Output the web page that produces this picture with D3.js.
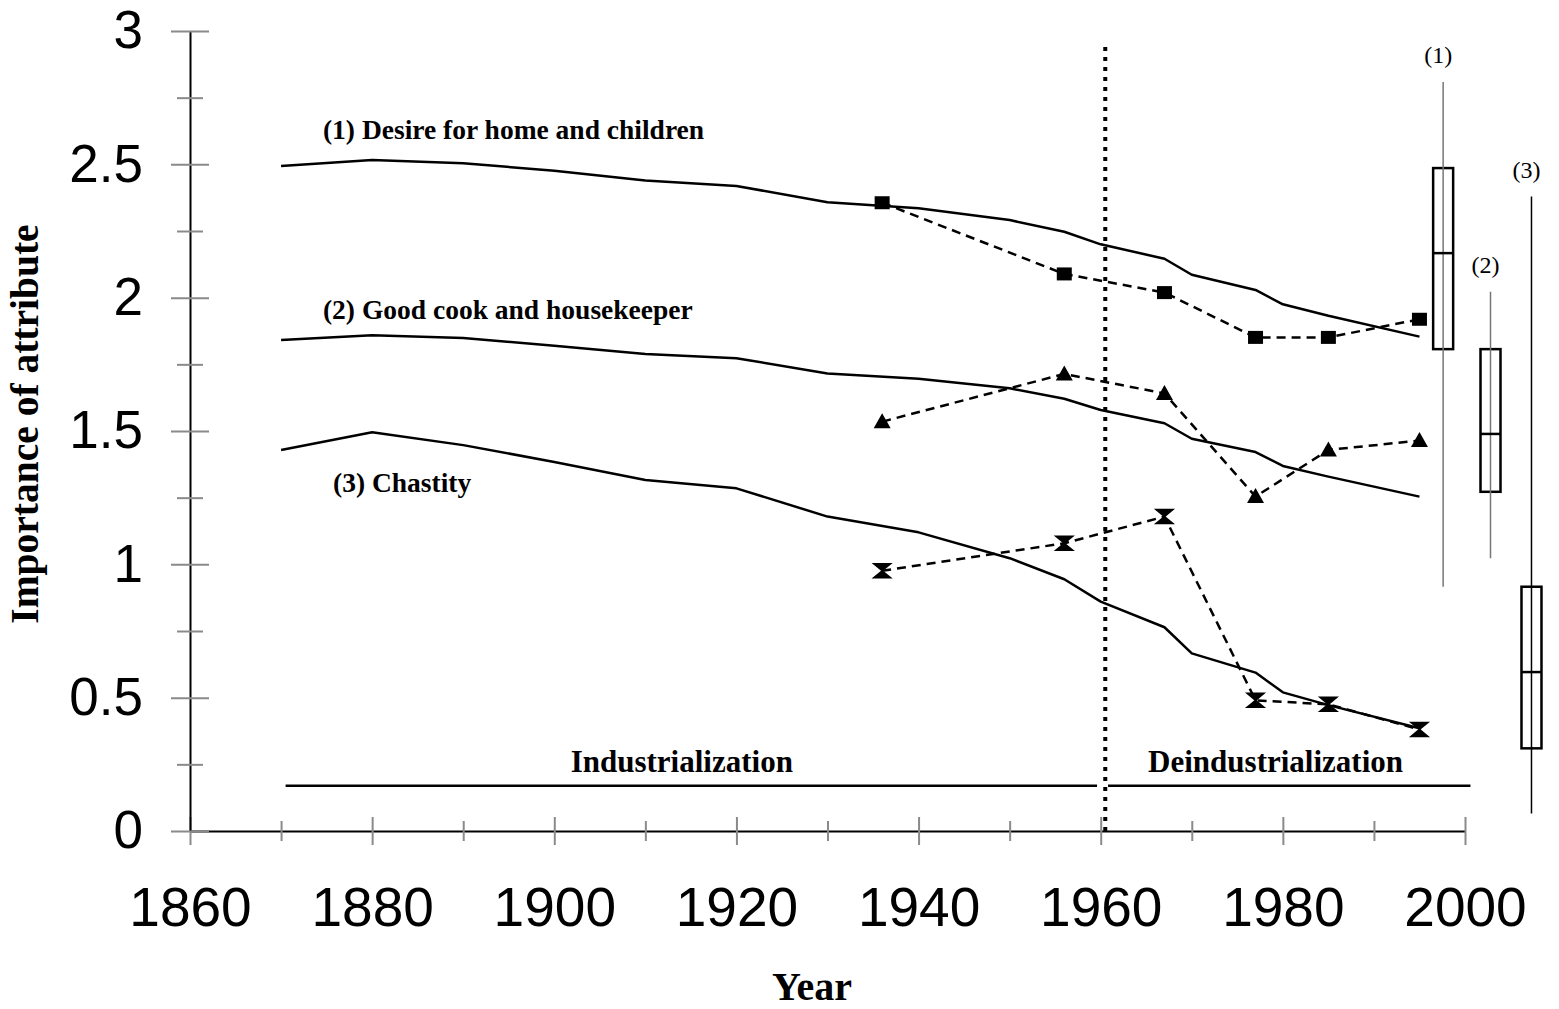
<!DOCTYPE html>
<html>
<head>
<meta charset="utf-8">
<script src="https://cdn.jsdelivr.net/npm/d3@7"></script>
<style>
    body { margin: 0; background: #fff; }
    .serif { font-family: "Liberation Serif", "Times New Roman", serif; }
    .sans { font-family: "Liberation Sans", Arial, sans-serif; }
</style>
</head>
<body>
<script>
// smooth trend lines (solid)
var trendYears = [1870, 1880, 1890, 1900, 1910, 1920, 1930, 1940, 1950, 1956, 1960, 1967, 1970, 1977, 1980, 1985, 1995];
var trendHome = [2.494, 2.516, 2.504, 2.476, 2.439, 2.419, 2.358, 2.335, 2.291, 2.247, 2.2, 2.146, 2.086, 2.029, 1.975, 1.932, 1.854];
var trendCook = [1.841, 1.859, 1.849, 1.82, 1.789, 1.773, 1.716, 1.696, 1.66, 1.621, 1.579, 1.529, 1.471, 1.421, 1.369, 1.329, 1.254];
var trendChastity = [1.429, 1.495, 1.447, 1.384, 1.316, 1.285, 1.179, 1.12, 1.023, 0.944, 0.86, 0.764, 0.666, 0.594, 0.52, 0.472, 0.385];

// survey points (dashed)
var surveyYears = [1936, 1956, 1967, 1977, 1985, 1995];
var surveyHome = [2.356, 2.089, 2.019, 1.851, 1.851, 1.919];
var surveyCook = [1.535, 1.714, 1.641, 1.254, 1.429, 1.464];
var surveyChastity = [0.976, 1.079, 1.179, 0.49, 0.475, 0.381];

var seriesLabels = ['(1) Desire for home and children', '(2) Good cook and housekeeper', '(3) Chastity'];
var seriesLabelYears = [1874.6, 1874.6, 1875.7];
var seriesLabelValues = [2.595, 1.92, 1.27];

// box plots at the right
var boxNames = ['(1)', '(2)', '(3)'];
var boxYears = [1997.6, 2002.8, 2007.3];
var boxMax = [2.809, 2.022, 2.379];
var boxQ3 = [2.486, 1.807, 0.916];
var boxMedian = [2.167, 1.489, 0.596];
var boxQ1 = [1.807, 1.272, 0.31];
var boxMin = [0.916, 1.023, 0.066];

// periods
var periodNames = ['Industrialization', 'Deindustrialization'];
var periodStart = [1870.5, 1960.8];
var periodEnd = [1959.6, 2000.6];
var periodLabelYears = [1914, 1979.2];
var periodLevel = 0.17;
var periodLabelLevel = 0.222;
var breakYear = 1960.5;

var xMajorTicks = d3.range(1860, 2001, 20);
var xMinorTicks = d3.range(1870, 2000, 20);
var yMajorTicks = [0, 0.5, 1, 1.5, 2, 2.5, 3];
var yMinorTicks = [0.25, 0.75, 1.25, 1.75, 2.25, 2.75];

var width = 1559, height = 1009;
var tickGrey = '#8a8a8a';

var svg = d3.select('body').append('svg')
    .attr('width', width)
    .attr('height', height);

var x = d3.scaleLinear().domain([1860, 2000]).range([190, 1465]);
var y = d3.scaleLinear().domain([0, 3]).range([831, 31]);

//x-axis
var xAxisG = svg.append('g')
    .attr('transform', 'translate(0,' + y(0) + ')')
    .call(d3.axisBottom(x).tickValues(xMajorTicks).tickSize(14).tickSizeOuter(0).tickPadding(42)
        .tickFormat(function (d) { return String(d); }));
xAxisG.select('.domain').attr('stroke', '#000').attr('stroke-width', 2);
xAxisG.selectAll('.tick line').attr('y1', -14).attr('stroke', tickGrey).attr('stroke-width', 2);
xAxisG.selectAll('.tick text').attr('class', 'sans').attr('font-size', 55).attr('fill', '#000');

var xMinorG = svg.append('g')
    .attr('transform', 'translate(0,' + y(0) + ')')
    .call(d3.axisBottom(x).tickValues(xMinorTicks).tickSize(10).tickSizeOuter(0).tickFormat(''));
xMinorG.select('.domain').remove();
xMinorG.selectAll('.tick line').attr('y1', -10).attr('stroke', tickGrey).attr('stroke-width', 2);

//y-axis
var yAxisG = svg.append('g')
    .attr('transform', 'translate(' + x(1860) + ',0)')
    .call(d3.axisLeft(y).tickValues(yMajorTicks).tickSize(19).tickSizeOuter(0).tickPadding(28)
        .tickFormat(function (d) { return String(d); }));
yAxisG.select('.domain').attr('stroke', '#000').attr('stroke-width', 2);
yAxisG.selectAll('.tick line').attr('x1', 19).attr('stroke', tickGrey).attr('stroke-width', 2);
yAxisG.selectAll('.tick text').attr('class', 'sans').attr('font-size', 53).attr('fill', '#000');

var yMinorG = svg.append('g')
    .attr('transform', 'translate(' + x(1860) + ',0)')
    .call(d3.axisLeft(y).tickValues(yMinorTicks).tickSize(13).tickSizeOuter(0).tickFormat(''));
yMinorG.select('.domain').remove();
yMinorG.selectAll('.tick line').attr('x1', 13).attr('stroke', tickGrey).attr('stroke-width', 2);

//axis titles
svg.append('text')
    .attr('class', 'serif')
    .attr('x', 812)
    .attr('y', 1000)
    .attr('text-anchor', 'middle')
    .attr('font-size', 40)
    .attr('font-weight', 'bold')
    .text('Year');

svg.append('text')
    .attr('class', 'serif')
    .attr('transform', 'translate(38,' + 424 + ') rotate(-90)')
    .attr('text-anchor', 'middle')
    .attr('font-size', 39.5)
    .attr('font-weight', 'bold')
    .text('Importance of attribute');

//break between periods
svg.append('line')
    .attr('x1', x(breakYear)).attr('x2', x(breakYear))
    .attr('y1', y(0)).attr('y2', y(2.96))
    .attr('stroke', '#000')
    .attr('stroke-width', 4)
    .attr('stroke-dasharray', '4,6');

//period lines and labels
periodNames.forEach(function (name, i) {
    svg.append('line')
        .attr('x1', x(periodStart[i])).attr('x2', x(periodEnd[i]))
        .attr('y1', y(periodLevel)).attr('y2', y(periodLevel))
        .attr('stroke', '#000')
        .attr('stroke-width', 2.5);
    svg.append('text')
        .attr('class', 'serif')
        .attr('x', x(periodLabelYears[i]))
        .attr('y', y(periodLabelLevel))
        .attr('text-anchor', 'middle')
        .attr('font-size', 31)
        .attr('font-weight', 'bold')
        .text(name);
});

//trend lines
var line = d3.line()
    .x(function (d) { return x(d[0]); })
    .y(function (d) { return y(d[1]); });

[trendHome, trendCook, trendChastity].forEach(function (vals) {
    svg.append('path')
        .datum(d3.zip(trendYears, vals))
        .attr('d', line)
        .attr('fill', 'none')
        .attr('stroke', '#000')
        .attr('stroke-width', 2.5)
        .attr('stroke-linejoin', 'round');
});

//survey lines
var markerPaths = [
    // square
    'M-7.5,-6.5H7.5V6.5H-7.5Z',
    // triangle
    'M0,-8.5L8.5,6.5H-8.5Z',
    // hourglass
    'M-8.5,-7H8.5L0,0L8.5,7H-8.5L0,0Z'
];

[surveyHome, surveyCook, surveyChastity].forEach(function (vals, k) {
    var pts = d3.zip(surveyYears, vals);
    svg.append('path')
        .datum(pts)
        .attr('d', line)
        .attr('fill', 'none')
        .attr('stroke', '#000')
        .attr('stroke-width', 2.5)
        .attr('stroke-dasharray', '9,6');
    svg.append('g').selectAll('path')
        .data(pts)
        .enter().append('path')
        .attr('transform', function (d) { return 'translate(' + x(d[0]) + ',' + y(d[1]) + ')'; })
        .attr('d', markerPaths[k])
        .attr('fill', '#000')
        .attr('stroke', '#000')
        .attr('stroke-width', k === 2 ? 1.5 : 0);
});

//series labels
seriesLabels.forEach(function (t, i) {
    svg.append('text')
        .attr('class', 'serif')
        .attr('x', x(seriesLabelYears[i]))
        .attr('y', y(seriesLabelValues[i]))
        .attr('font-size', 27.5)
        .attr('font-weight', 'bold')
        .text(t);
});

//box plots
var boxWidth = 20;
var whiskerColors = ['#777', '#777', '#000'];
boxNames.forEach(function (name, i) {
    var cx = x(boxYears[i]);
    var g = svg.append('g');
    g.append('rect')
        .attr('x', cx - boxWidth / 2)
        .attr('y', y(boxQ3[i]))
        .attr('width', boxWidth)
        .attr('height', y(boxQ1[i]) - y(boxQ3[i]))
        .attr('fill', '#fff')
        .attr('stroke', '#000')
        .attr('stroke-width', 2.5);
    g.append('line')
        .attr('x1', cx).attr('x2', cx)
        .attr('y1', y(boxMax[i])).attr('y2', y(boxMin[i]))
        .attr('stroke', whiskerColors[i])
        .attr('stroke-width', 1.5);
    g.append('line')
        .attr('x1', cx - boxWidth / 2).attr('x2', cx + boxWidth / 2)
        .attr('y1', y(boxMedian[i])).attr('y2', y(boxMedian[i]))
        .attr('stroke', '#000')
        .attr('stroke-width', 2.5);
    g.append('text')
        .attr('class', 'serif')
        .attr('x', cx - 5)
        .attr('y', y(boxMax[i]) - 19)
        .attr('text-anchor', 'middle')
        .attr('font-size', 24)
        .text(name);
});
</script>
</body>
</html>
